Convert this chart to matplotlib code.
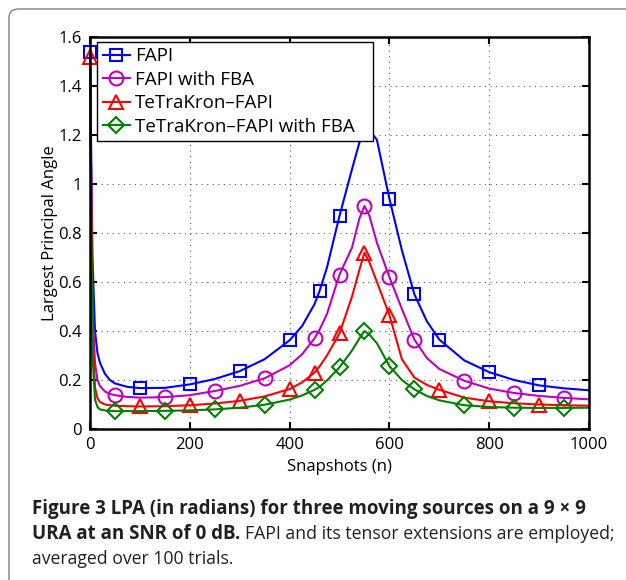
import numpy as np
import matplotlib
matplotlib.use("Agg")
import matplotlib.pyplot as plt
from matplotlib.patches import FancyBboxPatch

plt.rcParams['font.family'] = ['Open Sans', 'DejaVu Sans']

# snapshots (x grid)
n = [0, 5, 10, 15, 20, 30, 40, 50, 75, 100, 150, 200, 250, 300, 350, 400, 425, 450, 460,
     475, 500, 525, 540, 550, 560, 575, 600, 625, 650, 675, 700, 750, 800, 850, 900, 950, 1000]

fapi = [1.54, 0.7, 0.4, 0.31, 0.27, 0.225, 0.2, 0.186, 0.172, 0.167, 0.168, 0.182, 0.204, 0.236,
        0.285, 0.362, 0.42, 0.51, 0.563, 0.66, 0.87, 1.06, 1.17, 1.21, 1.22, 1.18, 0.94, 0.73, 0.55,
        0.44, 0.365, 0.28, 0.232, 0.2, 0.178, 0.166, 0.158]
fapi_fba = [1.48, 0.5, 0.27, 0.2, 0.175, 0.153, 0.143, 0.138, 0.131, 0.128, 0.13, 0.138, 0.155, 0.176,
            0.207, 0.26, 0.305, 0.37, 0.405, 0.47, 0.63, 0.74, 0.86, 0.91, 0.87, 0.76, 0.62, 0.49,
            0.365, 0.29, 0.245, 0.197, 0.165, 0.147, 0.135, 0.127, 0.121]
tk_fapi = [1.52, 0.4, 0.17, 0.125, 0.11, 0.1, 0.097, 0.095, 0.093, 0.092, 0.093, 0.097, 0.104, 0.115,
           0.133, 0.163, 0.19, 0.23, 0.255, 0.3, 0.39, 0.54, 0.65, 0.72, 0.68, 0.6, 0.465, 0.285,
           0.21, 0.18, 0.16, 0.128, 0.113, 0.105, 0.1, 0.097, 0.095]
tk_fapi_fba = [1.40, 0.3, 0.12, 0.09, 0.08, 0.076, 0.074, 0.073, 0.073, 0.073, 0.074, 0.076, 0.08,
               0.087, 0.099, 0.12, 0.137, 0.16, 0.172, 0.198, 0.252, 0.32, 0.37, 0.4, 0.385, 0.35,
               0.257, 0.2, 0.162, 0.135, 0.117, 0.097, 0.09, 0.087, 0.086, 0.086, 0.087]

# where the markers sit
fapi_marks = [0, 100, 200, 300, 400, 460, 500, 550, 600, 650, 700, 800, 900]
fapi_fba_marks = [50, 150, 250, 350, 450, 500, 550, 600, 650, 750, 850, 950]
tk_fapi_marks = [0, 100, 200, 300, 400, 450, 500, 550, 600, 700, 800, 900]
tk_fapi_fba_marks = [50, 150, 250, 350, 450, 500, 550, 600, 650, 750, 850, 950]

labels = ['FAPI', 'FAPI with FBA', 'TeTraKron\u2013FAPI', 'TeTraKron\u2013FAPI with FBA']

fig = plt.figure(figsize=(6.26, 5.8), dpi=100)

# rounded frame around the figure
frame = FancyBboxPatch((9 / 626, -0.1), 1.2, 1.1 - 9 / 580,
                       boxstyle="round,pad=0,rounding_size=0.015",
                       transform=fig.transFigure, fc='none', ec='#7f7f7f', lw=1.0)
fig.patches.append(frame)

ax = fig.add_axes([90 / 626, 1 - 429 / 580, 499 / 626, 392 / 580])

series = [
    (fapi, fapi_marks, 'b', 's', 9),
    (fapi_fba, fapi_fba_marks, '#bf00bf', 'o', 10),
    (tk_fapi, tk_fapi_marks, 'r', '^', 10),
    (tk_fapi_fba, tk_fapi_fba_marks, '#008000', 'D', 8.5),
]
for (y, marks, c, m, ms), lab in zip(series, labels):
    ax.plot(n, y, color=c, lw=1.5, marker=m, ms=ms, mfc='none', mec=c, mew=1.5,
            markevery=[n.index(v) for v in marks], label=lab, clip_on=False)

ax.set_xlim(0, 1000)
ax.set_ylim(0, 1.6)
ax.set_xticks(np.arange(0, 1001, 200))
ax.set_yticks(np.arange(0, 1.61, 0.2))
ax.set_yticklabels(['0', '0.2', '0.4', '0.6', '0.8', '1', '1.2', '1.4', '1.6'])
ax.tick_params(direction='in', top=True, right=True, length=5, width=1.5, labelsize=12, pad=6)
for s in ax.spines.values():
    s.set_linewidth(1.8)
ax.grid(True, color='0.35', linestyle=(0, (1, 4)), linewidth=0.8)
ax.set_xlabel('Snapshots (n)', fontsize=12, labelpad=4)
ax.set_ylabel('Largest Principal Angle', fontsize=12, labelpad=0)

leg = ax.legend(loc='upper left', bbox_to_anchor=(0.014, 0.0, 0.553, 0.988), mode='expand',
                borderaxespad=0, fontsize=13.5, handlelength=1.45, handletextpad=0.28,
                labelspacing=0.29, borderpad=0.3, fancybox=False, framealpha=1, edgecolor='k')
leg.get_frame().set_linewidth(1.0)
leg.set_zorder(5)

# caption
ink = '#231f20'
fig.text(32 / 626, 1 - 514 / 580, 'Figure 3 LPA (in radians) for three moving sources on a 9 \u00d7 9',
         fontsize=13.5, fontweight='bold', color=ink, va='baseline')
t = fig.text(32 / 626, 1 - 539 / 580, 'URA at an SNR of 0 dB.', fontsize=13.5, fontweight='bold',
             color=ink, va='baseline')
fig.canvas.draw()
bb = t.get_window_extent().transformed(fig.transFigure.inverted())
fig.text(bb.x1 + 5 / 626, 1 - 539 / 580, 'FAPI and its tensor extensions are employed;',
         fontsize=12.7, color=ink, va='baseline')
fig.text(32 / 626, 1 - 564 / 580, 'averaged over 100 trials.', fontsize=12.7, color=ink,
         va='baseline')

fig.savefig('out.png', dpi=100)
